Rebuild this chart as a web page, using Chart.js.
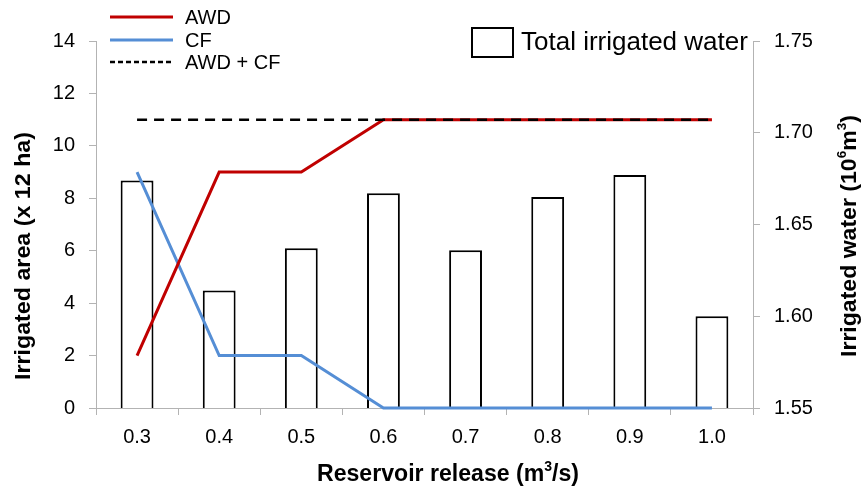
<!DOCTYPE html>
<html lang="en">
<head>
    <meta charset="UTF-8">
    <title>Irrigated area and water vs reservoir release</title>
    <script src="https://cdn.jsdelivr.net/npm/chart.js"></script>
    <style>
        html, body { margin: 0; padding: 0; background: #fff; }
        #wrap { width: 861px; height: 490px; }
    </style>
</head>
<body>
    <div id="wrap"><canvas id="myChart" width="861" height="490"></canvas></div>

    <script>
        // Chart data
        var releases = ['0.3', '0.4', '0.5', '0.6', '0.7', '0.8', '0.9', '1.0'];
        var awd = [2, 9, 9, 11, 11, 11, 11, 11];
        var cf = [9, 2, 2, 0, 0, 0, 0, 0];
        var awdPlusCf = [11, 11, 11, 11, 11, 11, 11, 11];
        var totalWater = [1.674, 1.614, 1.637, 1.667, 1.636, 1.665, 1.677, 1.600];
        var areaTicks = [0, 2, 4, 6, 8, 10, 12, 14];
        var waterTicks = [1.55, 1.60, 1.65, 1.70, 1.75];

        var FONT = "'Liberation Sans', Arial, sans-serif";
        var AXIS_GREY = '#b3b3b3';

        // draw text made of pieces, some of them superscript, fitted to a given width
        function drawRich(ctx, parts, x, y, size, width, rotate) {
            ctx.save();
            ctx.translate(x, y);
            if (rotate) ctx.rotate(-Math.PI / 2);
            var total = 0;
            parts.forEach(function(p) {
                ctx.font = 'bold ' + (p.sup ? Math.round(size * 0.6) : size) + 'px ' + FONT;
                p.w = ctx.measureText(p.t).width;
                total += p.w;
            });
            var sx = width ? width / total : 1;
            ctx.scale(sx, 1);
            ctx.fillStyle = '#000';
            ctx.textBaseline = 'middle';
            ctx.textAlign = 'left';
            var cx = -total / 2;
            parts.forEach(function(p) {
                ctx.font = 'bold ' + (p.sup ? Math.round(size * 0.6) : size) + 'px ' + FONT;
                ctx.fillText(p.t, cx, p.sup ? -size * 0.35 : 0);
                cx += p.w;
            });
            ctx.restore();
        }

        var extras = {
            id: 'extras',
            afterDraw: function(chart) {
                var ctx = chart.ctx;
                var ds = chart.data.datasets;

                // line legend, top left
                var rows = [ds[0], ds[1], ds[2]];
                var ys = [17, 40, 62];
                rows.forEach(function(d, i) {
                    ctx.save();
                    ctx.strokeStyle = d.borderColor;
                    ctx.lineWidth = d.borderWidth;
                    if (d.borderDash) ctx.setLineDash([5, 3]);
                    ctx.beginPath();
                    ctx.moveTo(110, ys[i]);
                    ctx.lineTo(173, ys[i]);
                    ctx.stroke();
                    ctx.restore();
                    ctx.fillStyle = '#000';
                    ctx.font = '20px ' + FONT;
                    ctx.textBaseline = 'middle';
                    ctx.textAlign = 'left';
                    ctx.fillText(d.label, 185, ys[i] + 1);
                });

                // bar legend, top right
                ctx.save();
                ctx.strokeStyle = '#000';
                ctx.lineWidth = 2;
                ctx.strokeRect(472, 28, 41, 29);
                ctx.fillStyle = '#000';
                ctx.font = '26px ' + FONT;
                ctx.textBaseline = 'middle';
                ctx.fillText(ds[3].label, 521, 43);
                ctx.restore();

                // axis titles
                drawRich(ctx, [{t: 'Reservoir release (m'}, {t: '3', sup: true}, {t: '/s)'}], 448, 475, 23, 262, false);
                drawRich(ctx, [{t: 'Irrigated area (x 12 ha)'}], 24, 256, 22, 248, true);
                drawRich(ctx, [{t: 'Irrigated water (10'}, {t: '6', sup: true}, {t: 'm'}, {t: '3', sup: true}, {t: ')'}], 850, 236, 22, 242, true);
            }
        };

        var ctx = document.getElementById('myChart').getContext('2d');
        var myChart = new Chart(ctx, {
            type: 'bar',
            data: {
                labels: releases,
                datasets: [{
                    type: 'line',
                    label: 'AWD',
                    data: awd,
                    yAxisID: 'y',
                    borderColor: '#c00000',
                    borderWidth: 3,
                    pointRadius: 0,
                    tension: 0,
                    clip: false,
                    order: 2
                }, {
                    type: 'line',
                    label: 'CF',
                    data: cf,
                    yAxisID: 'y',
                    borderColor: '#558ed5',
                    borderWidth: 3,
                    pointRadius: 0,
                    tension: 0,
                    clip: false,
                    order: 3
                }, {
                    type: 'line',
                    label: 'AWD + CF',
                    data: awdPlusCf,
                    yAxisID: 'y',
                    borderColor: '#000000',
                    borderWidth: 2.5,
                    borderDash: [10, 7],
                    pointRadius: 0,
                    tension: 0,
                    clip: false,
                    order: 1
                }, {
                    type: 'bar',
                    label: 'Total irrigated water',
                    data: totalWater,
                    yAxisID: 'y1',
                    backgroundColor: '#ffffff',
                    borderColor: '#000000',
                    borderWidth: 2,
                    borderSkipped: false,
                    barPercentage: 0.4,
                    categoryPercentage: 1,
                    order: 4
                }]
            },
            options: {
                responsive: false,
                animation: false,
                layout: { padding: { top: 41, left: 0, right: 0, bottom: 0 } },
                plugins: {
                    legend: { display: false },
                    tooltip: { enabled: false }
                },
                scales: {
                    x: {
                        afterFit: function(s) { s.height = 82; },
                        grid: { offset: true, drawOnChartArea: false, color: AXIS_GREY, tickLength: 7 },
                        border: { color: AXIS_GREY, width: 1 },
                        ticks: { color: '#000', font: { family: FONT, size: 20 }, padding: 10, maxRotation: 0 }
                    },
                    y: {
                        position: 'left',
                        min: 0,
                        max: 14,
                        afterFit: function(s) { s.width = 96; },
                        afterBuildTicks: function(s) { s.ticks = areaTicks.map(function(v) { return { value: v }; }); },
                        grid: { drawOnChartArea: false, color: AXIS_GREY, tickLength: 7 },
                        border: { color: AXIS_GREY, width: 1 },
                        ticks: { color: '#000', font: { family: FONT, size: 20 }, padding: 14 }
                    },
                    y1: {
                        position: 'right',
                        min: 1.55,
                        max: 1.75,
                        afterFit: function(s) { s.width = 108; },
                        afterBuildTicks: function(s) { s.ticks = waterTicks.map(function(v) { return { value: v }; }); },
                        grid: { drawOnChartArea: false, color: AXIS_GREY, tickLength: 7 },
                        border: { color: AXIS_GREY, width: 1 },
                        ticks: {
                            color: '#000',
                            font: { family: FONT, size: 20 },
                            padding: 14,
                            callback: function(v) { return v.toFixed(2); }
                        }
                    }
                }
            },
            plugins: [extras]
        });
    </script>
</body>
</html>
